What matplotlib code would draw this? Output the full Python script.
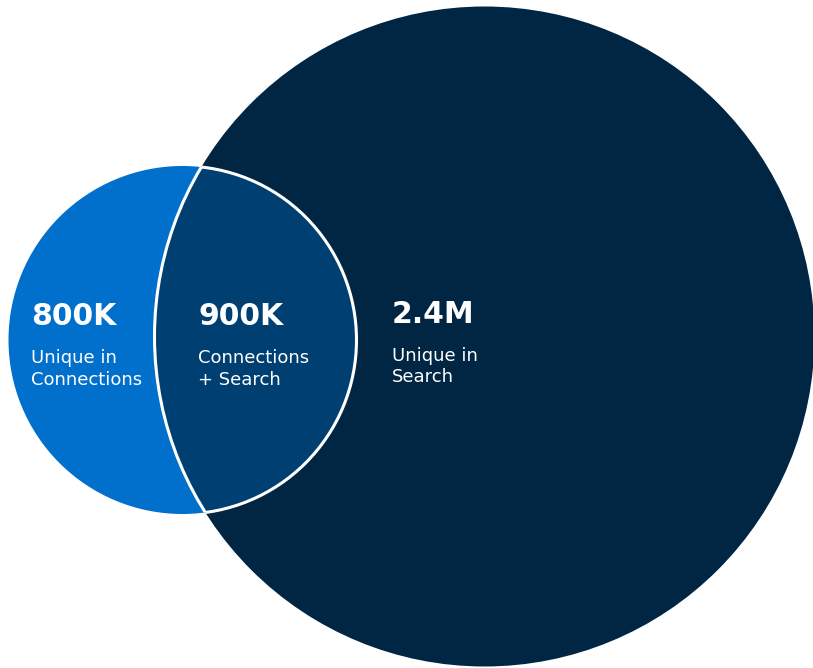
import matplotlib
matplotlib.use("Agg")
import matplotlib.pyplot as plt
from matplotlib.patches import Circle

# data
values = ["800K", "900K", "2.4M"]
labels = [["Unique in", "Connections"], ["Connections", "+ Search"], ["Unique in", "Search"]]

# layout (pixel coords)
small_c, small_r = (182.5, 340), 174
big_c, big_r = (484.5, 336.5), 330
text_x = [31, 198, 392]
value_y = [325, 325, 323]
label_y = [[363, 385], [363, 385], [361, 382]]

c_small = "#0070cc"
c_big = "#002644"
c_mid = "#003f72"

fig = plt.figure(figsize=(8.13, 6.68), dpi=100)
ax = fig.add_axes([0, 0, 1, 1])
ax.set_xlim(0, 813)
ax.set_ylim(668, 0)
ax.set_aspect("equal")
ax.axis("off")

big = Circle(big_c, big_r, fc=c_big, ec="none")
small = Circle(small_c, small_r, fc=c_small, ec="none")
ax.add_patch(big)
ax.add_patch(small)

# overlap area
clip_big = Circle(big_c, big_r, transform=ax.transData)
clip_small = Circle(small_c, small_r, transform=ax.transData)
lens = Circle(small_c, small_r, fc=c_mid, ec="none")
ax.add_patch(lens)
lens.set_clip_path(clip_big)

# white outline of the overlap
edge1 = Circle(small_c, small_r, fc="none", ec="white", lw=2.2)
ax.add_patch(edge1)
edge1.set_clip_path(clip_big)
edge2 = Circle(big_c, big_r, fc="none", ec="white", lw=2.2)
ax.add_patch(edge2)
edge2.set_clip_path(clip_small)

for i in range(3):
    ax.text(text_x[i], value_y[i], values[i], color="white", fontsize=21.5,
            fontweight="bold", ha="left", va="baseline", family="DejaVu Sans")
    for j in range(2):
        ax.text(text_x[i], label_y[i][j], labels[i][j], color="white", fontsize=13,
                ha="left", va="baseline", family="DejaVu Sans")

fig.savefig("out.png", dpi=100, facecolor="white")
